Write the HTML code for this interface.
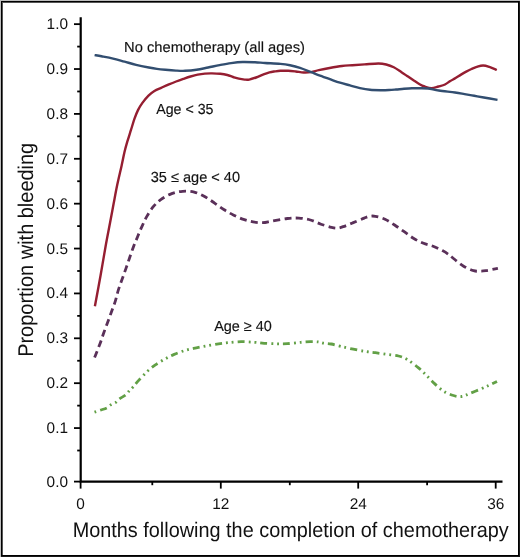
<!DOCTYPE html>
<html><head><meta charset="utf-8"><style>
html,body{margin:0;padding:0;background:#fff;}
body{width:520px;height:557px;overflow:hidden;position:relative;}
svg{position:absolute;left:0;top:0;will-change:transform;}
text{font-family:"Liberation Sans",sans-serif;fill:#111;stroke:#111;stroke-width:0.15px;text-rendering:geometricPrecision;}
.tl{font-size:15.4px;stroke:none;}
.t{stroke:#000;stroke-width:1.8;}
.ax{stroke:#000;stroke-width:2.2;fill:none;}
.c{fill:none;stroke-linejoin:round;}
</style></head><body>
<svg width="520" height="557" viewBox="0 0 520 557">
<g shape-rendering="crispEdges">
<rect x="0" y="0" width="520" height="557" fill="#1a1a1a"/>
<rect x="0" y="0" width="520" height="1" fill="#bebebe"/>
<rect x="0" y="0" width="1" height="557" fill="#bebebe"/>
<rect x="1" y="1" width="518" height="555" fill="#000"/>
<rect x="2" y="2" width="516" height="553" fill="#555"/>
<rect x="3" y="3" width="515" height="552" fill="#fff"/>
</g>
<path class="ax" d="M80.70 17.3 V481.60 H502.5"/>
<line x1="74" y1="428.07" x2="80.70" y2="428.07" class="t"/>
<line x1="74" y1="383.19" x2="80.70" y2="383.19" class="t"/>
<line x1="74" y1="338.31" x2="80.70" y2="338.31" class="t"/>
<line x1="74" y1="293.43" x2="80.70" y2="293.43" class="t"/>
<line x1="74" y1="248.55" x2="80.70" y2="248.55" class="t"/>
<line x1="74" y1="203.67" x2="80.70" y2="203.67" class="t"/>
<line x1="74" y1="158.79" x2="80.70" y2="158.79" class="t"/>
<line x1="74" y1="113.91" x2="80.70" y2="113.91" class="t"/>
<line x1="74" y1="69.03" x2="80.70" y2="69.03" class="t"/>
<line x1="74" y1="24.15" x2="80.70" y2="24.15" class="t"/>
<line x1="77.2" y1="405.63" x2="80.70" y2="405.63" class="t"/>
<line x1="77.2" y1="360.75" x2="80.70" y2="360.75" class="t"/>
<line x1="77.2" y1="315.87" x2="80.70" y2="315.87" class="t"/>
<line x1="77.2" y1="270.99" x2="80.70" y2="270.99" class="t"/>
<line x1="77.2" y1="226.11" x2="80.70" y2="226.11" class="t"/>
<line x1="77.2" y1="181.23" x2="80.70" y2="181.23" class="t"/>
<line x1="77.2" y1="136.35" x2="80.70" y2="136.35" class="t"/>
<line x1="77.2" y1="91.47" x2="80.70" y2="91.47" class="t"/>
<line x1="77.2" y1="46.59" x2="80.70" y2="46.59" class="t"/>
<line x1="77.2" y1="450.51" x2="80.70" y2="450.51" class="t"/>
<line x1="74" y1="481.60" x2="80.70" y2="481.60" class="t"/>
<line x1="80.60" y1="481.60" x2="80.60" y2="488.6" class="t"/>
<line x1="220.80" y1="481.60" x2="220.80" y2="488.6" class="t"/>
<line x1="358.20" y1="481.60" x2="358.20" y2="488.6" class="t"/>
<line x1="495.70" y1="481.60" x2="495.70" y2="488.6" class="t"/>
<line x1="152.30" y1="481.60" x2="152.30" y2="485.2" class="t"/>
<line x1="289.80" y1="481.60" x2="289.80" y2="485.2" class="t"/>
<line x1="427.10" y1="481.60" x2="427.10" y2="485.2" class="t"/>
<text x="46.6" y="433.07" class="tl">0.1</text>
<text x="46.6" y="388.19" class="tl">0.2</text>
<text x="46.6" y="343.31" class="tl">0.3</text>
<text x="46.6" y="298.43" class="tl">0.4</text>
<text x="46.6" y="253.55" class="tl">0.5</text>
<text x="46.6" y="208.67" class="tl">0.6</text>
<text x="46.6" y="163.79" class="tl">0.7</text>
<text x="46.6" y="118.91" class="tl">0.8</text>
<text x="46.6" y="74.03" class="tl">0.9</text>
<text x="46.6" y="29.15" class="tl">1.0</text>
<text x="46.6" y="486.60" class="tl">0.0</text>
<text x="80.60" y="508.9" class="tl" text-anchor="middle">0</text>
<text x="220.80" y="508.9" class="tl" text-anchor="middle">12</text>
<text x="358.20" y="508.9" class="tl" text-anchor="middle">24</text>
<text x="495.70" y="508.9" class="tl" text-anchor="middle">36</text>
<path class="c" d="M94.90 306.30 C95.85 301.12 98.75 285.58 100.60 275.20 C102.45 264.82 104.42 252.78 106.00 244.00 C107.58 235.22 108.83 229.20 110.10 222.50 C111.37 215.80 112.42 210.03 113.60 203.80 C114.78 197.57 115.87 191.45 117.20 185.10 C118.53 178.75 120.38 171.22 121.60 165.70 C122.82 160.18 123.55 156.00 124.50 152.00 C125.45 148.00 126.23 145.33 127.30 141.70 C128.37 138.07 129.70 134.03 130.90 130.20 C132.10 126.37 133.32 122.05 134.50 118.70 C135.68 115.35 136.68 112.73 138.00 110.10 C139.32 107.47 140.65 105.32 142.40 102.90 C144.15 100.48 146.50 97.60 148.50 95.60 C150.50 93.60 152.22 92.23 154.40 90.90 C156.58 89.57 159.18 88.68 161.60 87.60 C164.02 86.52 166.48 85.42 168.90 84.40 C171.32 83.38 173.70 82.42 176.10 81.50 C178.50 80.58 180.90 79.73 183.30 78.90 C185.70 78.07 188.10 77.22 190.50 76.50 C192.90 75.78 195.30 75.08 197.70 74.60 C200.10 74.12 202.52 73.80 204.90 73.60 C207.28 73.40 209.45 73.37 212.00 73.40 C214.55 73.43 217.65 73.53 220.20 73.80 C222.75 74.07 225.15 74.47 227.30 75.00 C229.45 75.53 231.18 76.38 233.10 77.00 C235.02 77.62 236.88 78.27 238.80 78.70 C240.72 79.13 242.87 79.45 244.60 79.60 C246.33 79.75 247.28 79.95 249.20 79.60 C251.12 79.25 253.80 78.32 256.10 77.50 C258.40 76.68 260.78 75.55 263.00 74.70 C265.22 73.85 267.40 72.95 269.40 72.40 C271.40 71.85 273.17 71.67 275.00 71.40 C276.83 71.13 278.22 70.90 280.40 70.80 C282.58 70.70 285.53 70.68 288.10 70.80 C290.67 70.92 293.23 71.22 295.80 71.50 C298.37 71.78 300.93 72.40 303.50 72.50 C306.07 72.60 308.65 72.48 311.20 72.10 C313.75 71.72 315.73 70.88 318.80 70.20 C321.87 69.52 325.75 68.70 329.60 68.00 C333.45 67.30 338.12 66.47 341.90 66.00 C345.68 65.53 348.52 65.47 352.30 65.20 C356.08 64.93 360.23 64.68 364.60 64.40 C368.97 64.12 374.90 63.48 378.50 63.50 C382.10 63.52 383.65 63.87 386.20 64.50 C388.75 65.13 391.25 66.02 393.80 67.30 C396.35 68.58 399.13 70.65 401.50 72.20 C403.87 73.75 406.07 75.30 408.00 76.60 C409.93 77.90 411.17 78.73 413.10 80.00 C415.03 81.27 417.68 83.12 419.60 84.20 C421.52 85.28 422.62 85.83 424.60 86.50 C426.58 87.17 429.20 88.20 431.50 88.20 C433.80 88.20 436.15 87.12 438.40 86.50 C440.65 85.88 443.02 85.42 445.00 84.50 C446.98 83.58 448.53 82.08 450.30 81.00 C452.07 79.92 453.82 79.07 455.60 78.00 C457.38 76.93 459.23 75.67 461.00 74.60 C462.77 73.53 464.45 72.53 466.20 71.60 C467.95 70.67 469.75 69.78 471.50 69.00 C473.25 68.22 474.77 67.48 476.70 66.90 C478.63 66.32 480.98 65.50 483.10 65.50 C485.22 65.50 487.12 66.15 489.40 66.90 C491.68 67.65 495.57 69.48 496.80 70.00" stroke="#951e31" stroke-width="2.4"/>
<path class="c" d="M94.60 357.60 C95.50 355.28 98.50 347.75 100.00 343.70 C101.50 339.65 102.33 336.85 103.60 333.30 C104.87 329.75 106.28 325.98 107.60 322.40 C108.92 318.82 110.20 315.40 111.50 311.80 C112.80 308.20 114.27 304.42 115.40 300.80 C116.53 297.18 117.18 293.68 118.30 290.10 C119.42 286.52 120.83 282.88 122.10 279.30 C123.37 275.72 124.65 272.18 125.90 268.60 C127.15 265.02 128.35 261.40 129.60 257.80 C130.85 254.20 132.07 250.52 133.40 247.00 C134.73 243.48 136.17 240.13 137.60 236.70 C139.03 233.27 140.43 229.83 142.00 226.40 C143.57 222.97 145.05 219.47 147.00 216.10 C148.95 212.73 151.35 208.98 153.70 206.20 C156.05 203.42 158.10 201.50 161.10 199.40 C164.10 197.30 168.10 194.95 171.70 193.60 C175.30 192.25 178.95 191.55 182.70 191.30 C186.45 191.05 190.55 191.23 194.20 192.10 C197.85 192.97 201.20 194.67 204.60 196.50 C208.00 198.33 211.33 200.88 214.60 203.10 C217.87 205.32 221.00 207.78 224.20 209.80 C227.40 211.82 230.58 213.60 233.80 215.20 C237.02 216.80 240.28 218.28 243.50 219.40 C246.72 220.52 249.90 221.35 253.10 221.90 C256.30 222.45 259.50 222.85 262.70 222.70 C265.90 222.55 268.20 221.70 272.30 221.00 C276.40 220.30 282.88 218.98 287.30 218.50 C291.72 218.02 294.95 217.85 298.80 218.10 C302.65 218.35 306.70 218.98 310.40 220.00 C314.10 221.02 317.48 222.98 321.00 224.20 C324.52 225.42 328.78 226.65 331.50 227.30 C334.22 227.95 335.37 228.20 337.30 228.10 C339.23 228.00 340.53 227.57 343.10 226.70 C345.67 225.83 349.18 224.33 352.70 222.90 C356.22 221.47 361.38 219.20 364.20 218.10 C367.02 217.00 367.73 216.60 369.60 216.30 C371.47 216.00 372.83 215.82 375.40 216.30 C377.97 216.78 381.80 217.75 385.00 219.20 C388.20 220.65 391.40 222.92 394.60 225.00 C397.80 227.08 401.00 229.45 404.20 231.70 C407.40 233.95 410.58 236.57 413.80 238.50 C417.02 240.43 420.28 242.02 423.50 243.30 C426.72 244.58 429.95 244.98 433.10 246.20 C436.25 247.42 439.90 249.28 442.40 250.60 C444.90 251.92 446.03 252.62 448.10 254.10 C450.17 255.58 452.22 257.48 454.80 259.50 C457.38 261.52 460.47 264.33 463.60 266.20 C466.73 268.07 470.80 269.87 473.60 270.70 C476.40 271.53 478.37 271.20 480.40 271.20 C482.43 271.20 483.33 271.08 485.80 270.70 C488.27 270.32 493.18 269.30 495.20 268.90 C497.22 268.50 497.45 268.40 497.90 268.30" stroke="#5a3059" stroke-width="2.8" stroke-dasharray="7 4.345" stroke-dashoffset="0.1"/>
<path class="c" d="M94.40 412.20 C95.35 411.87 98.03 410.92 100.10 410.20 C102.17 409.48 105.03 408.78 106.80 407.90 C108.57 407.02 109.20 405.83 110.70 404.90 C112.20 403.97 114.37 403.30 115.80 402.30 C117.23 401.30 117.67 400.10 119.30 398.90 C120.93 397.70 124.00 396.37 125.60 395.10 C127.20 393.83 127.67 392.63 128.90 391.30 C130.13 389.97 131.37 388.92 133.00 387.10 C134.63 385.28 136.32 383.03 138.70 380.40 C141.08 377.77 144.58 373.83 147.30 371.30 C150.02 368.77 152.12 367.22 155.00 365.20 C157.88 363.18 161.40 361.00 164.60 359.20 C167.80 357.40 170.67 355.90 174.20 354.40 C177.73 352.90 182.12 351.28 185.80 350.20 C189.48 349.12 192.78 348.63 196.30 347.90 C199.82 347.17 203.20 346.48 206.90 345.80 C210.60 345.12 214.97 344.32 218.50 343.80 C222.03 343.28 224.32 343.05 228.10 342.70 C231.88 342.35 236.78 341.77 241.20 341.70 C245.62 341.63 250.77 342.03 254.60 342.30 C258.43 342.57 260.35 343.05 264.20 343.30 C268.05 343.55 273.85 343.73 277.70 343.80 C281.55 343.87 283.45 343.95 287.30 343.70 C291.15 343.45 296.95 342.63 300.80 342.30 C304.65 341.97 307.52 341.77 310.40 341.70 C313.28 341.63 315.92 341.67 318.10 341.90 C320.28 342.13 321.32 342.75 323.50 343.10 C325.68 343.45 328.32 343.47 331.20 344.00 C334.08 344.53 337.12 345.43 340.80 346.30 C344.48 347.17 349.13 348.33 353.30 349.20 C357.47 350.07 362.12 350.92 365.80 351.50 C369.48 352.08 371.88 352.22 375.40 352.70 C378.92 353.18 383.05 353.85 386.90 354.40 C390.75 354.95 395.13 355.17 398.50 356.00 C401.87 356.83 403.82 357.47 407.10 359.40 C410.38 361.33 415.00 364.95 418.20 367.60 C421.40 370.25 423.62 372.67 426.30 375.30 C428.98 377.93 431.45 380.77 434.30 383.40 C437.15 386.03 440.20 389.08 443.40 391.10 C446.60 393.12 450.47 394.60 453.50 395.50 C456.53 396.40 458.90 396.83 461.60 396.50 C464.30 396.17 466.50 394.75 469.70 393.50 C472.90 392.25 477.60 390.35 480.80 389.00 C484.00 387.65 486.20 386.67 488.90 385.40 C491.60 384.13 495.65 382.07 497.00 381.40" stroke="#62a046" stroke-width="2.8" stroke-dasharray="7 4.1 1.8 3.9 1.8 4.1" stroke-dashoffset="16.6"/>
<path class="c" d="M94.60 55.10 C95.75 55.30 98.42 55.72 101.50 56.30 C104.58 56.88 109.25 57.70 113.10 58.60 C116.95 59.50 120.77 60.67 124.60 61.70 C128.43 62.73 132.07 63.83 136.10 64.80 C140.13 65.77 145.33 66.82 148.80 67.50 C152.27 68.18 154.13 68.52 156.90 68.90 C159.67 69.28 162.22 69.52 165.40 69.80 C168.58 70.08 172.73 70.43 176.00 70.60 C179.27 70.77 181.58 70.93 185.00 70.80 C188.42 70.67 192.65 70.35 196.50 69.80 C200.35 69.25 204.25 68.28 208.10 67.50 C211.95 66.72 215.77 65.83 219.60 65.10 C223.43 64.37 227.25 63.62 231.10 63.10 C234.95 62.58 238.72 62.13 242.70 62.00 C246.68 61.87 251.28 62.13 255.00 62.30 C258.72 62.47 260.77 62.73 265.00 63.00 C269.23 63.27 276.23 63.52 280.40 63.90 C284.57 64.28 286.73 64.63 290.00 65.30 C293.27 65.97 296.47 66.75 300.00 67.90 C303.53 69.05 307.87 70.92 311.20 72.20 C314.53 73.48 316.87 74.43 320.00 75.60 C323.13 76.77 326.67 78.02 330.00 79.20 C333.33 80.38 336.67 81.67 340.00 82.70 C343.33 83.73 346.67 84.50 350.00 85.40 C353.33 86.30 356.67 87.37 360.00 88.10 C363.33 88.83 366.50 89.45 370.00 89.80 C373.50 90.15 377.83 90.17 381.00 90.20 C384.17 90.23 386.50 90.12 389.00 90.00 C391.50 89.88 393.50 89.70 396.00 89.50 C398.50 89.30 401.33 89.00 404.00 88.80 C406.67 88.60 409.33 88.40 412.00 88.30 C414.67 88.20 417.33 88.17 420.00 88.20 C422.67 88.23 424.87 88.12 428.00 88.50 C431.13 88.88 434.30 89.83 438.80 90.50 C443.30 91.17 450.70 91.90 455.00 92.50 C459.30 93.10 461.40 93.55 464.60 94.10 C467.80 94.65 471.00 95.23 474.20 95.80 C477.40 96.37 479.92 96.82 483.80 97.50 C487.68 98.18 495.22 99.50 497.50 99.90" stroke="#324e70" stroke-width="2.4"/>
<text x="124.09" y="51.80" font-size="14.60" textLength="180.82" lengthAdjust="spacingAndGlyphs">No chemotherapy (all ages)</text>
<text x="156.17" y="114.00" font-size="14.60" textLength="57.32" lengthAdjust="spacingAndGlyphs">Age &lt; 35</text>
<text x="150.75" y="182.40" font-size="14.60" textLength="89.32" lengthAdjust="spacingAndGlyphs">35 ≤ age &lt; 40</text>
<text x="214.17" y="331.40" font-size="14.60" textLength="57.69" lengthAdjust="spacingAndGlyphs">Age ≥ 40</text>
<text style="stroke:none" x="72.67" y="536.70" font-size="21.00" textLength="436.07" lengthAdjust="spacingAndGlyphs">Months following the completion of chemotherapy</text>
<text style="stroke:none" transform="translate(33.00,355.20) rotate(-90)" x="-1.64" y="0" font-size="21.30" textLength="214.02" lengthAdjust="spacingAndGlyphs">Proportion with bleeding</text>
</svg>
</body></html>
